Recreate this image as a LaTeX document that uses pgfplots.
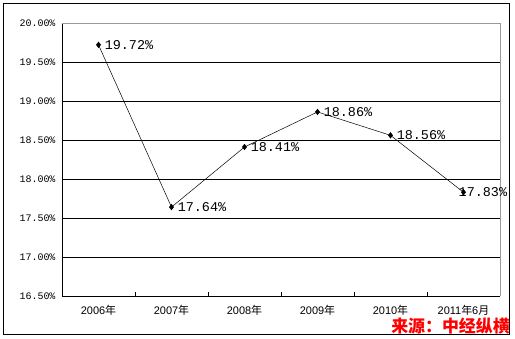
\documentclass[border=0pt]{standalone}
\usepackage{pgfplots}
\pgfplotsset{compat=1.18}
\usepackage{fontspec}
\setmainfont{Liberation Mono}
\newfontfamily\cjk{Noto Sans CJK SC}
\newfontfamily\catfont{Liberation Sans}
\begin{document}
\begin{tikzpicture}
\useasboundingbox (-62bp,-43bp) rectangle (453bp,296bp);
\begin{axis}[
  scale only axis,
  width=438bp, height=273bp,
  xmin=-0.5, xmax=5.5,
  ymin=16.5, ymax=20,
  axis x line*=bottom, axis y line*=left,
  axis line style={black, line width=0.8bp, -},
  xtick={0,...,5},
  xticklabels={2006{\cjk 年},2007{\cjk 年},2008{\cjk 年},2009{\cjk 年},2010{\cjk 年},2011{\cjk 年}6{\cjk 月}},
  xticklabel style={font=\catfont\fontsize{11}{11}\selectfont, yshift=-6bp},
  major x tick style={draw=none},
  minor xtick={0.5,1.5,2.5,3.5,4.5},
  minor tick length=4bp,
  minor x tick style={black, line width=0.8bp},
  xtick align=inside,
  ytick={16.5,17,17.5,18,18.5,19,19.5,20},
  yticklabels={16.50\%,17.00\%,17.50\%,18.00\%,18.50\%,19.00\%,19.50\%,20.00\%},
  yticklabel style={font=\fontsize{10}{10}\selectfont, xshift=-3bp},
  major y tick style={draw=none},
  ymajorgrids,
  major grid style={black, line width=0.8bp},
  clip=false,
]
\addplot[draw=none, no marks,
  nodes near coords, point meta=explicit symbolic,
  every node near coord/.append style={anchor=west, xshift=-6bp, inner sep=1bp, font=\fontsize{13.5}{13.5}\selectfont}]
coordinates {
  (5,17.83) [17.83\%]
};
\addplot[black, line width=0.5bp, mark=diamond*, mark size=2.8bp,
  mark options={fill=black},
  nodes near coords, point meta=explicit symbolic,
  every node near coord/.append style={anchor=west, xshift=5bp, inner sep=1bp, font=\fontsize{13.5}{13.5}\selectfont}]
coordinates {
  (0,19.72) [19.72\%]
  (1,17.64) [17.64\%]
  (2,18.41) [18.41\%]
  (3,18.86) [18.86\%]
  (4,18.56) [18.56\%]
  (5,17.83) []
};
\draw[gray!80, line width=0.8bp] (rel axis cs:0,1) -- (rel axis cs:1,1) -- (rel axis cs:1,0);
\end{axis}
\draw[black, line width=1bp] (-58bp,-38bp) rectangle (447bp,292bp);
\node[anchor=east, inner sep=0pt, text=red, font=\cjk\bfseries\fontsize{17}{17}\selectfont] at (448bp,-30bp) {来源：中经纵横};
\end{tikzpicture}
\end{document}
